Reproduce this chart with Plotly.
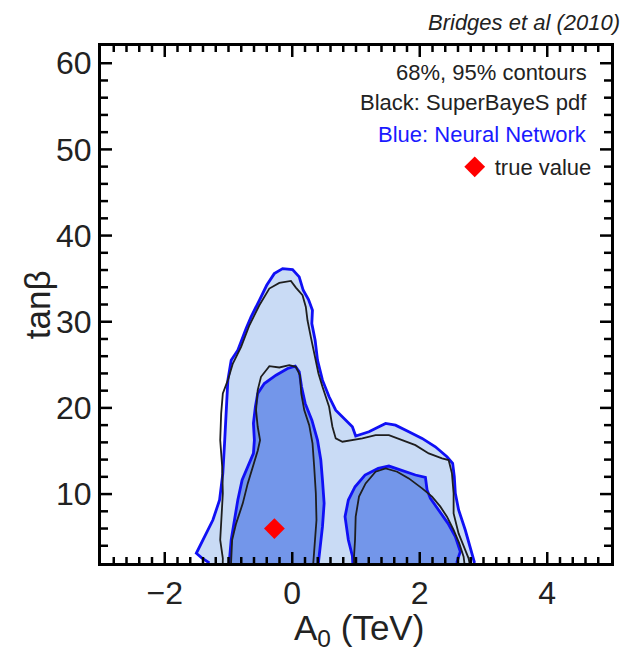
import plotly.graph_objects as go

# Marginalised posterior contours in the (A0, tan beta) plane.
# Each contour is an ordered list of boundary vertices; open ends sit on the
# tan beta = 2 prior edge.

# Neural-network posterior, 95% region
nn95_a0 = [-1.30, -1.42, -1.505, -1.375, -1.245, -1.140, -1.089, -1.062, -1.036, -1.010,
           -0.958, -0.854, -0.724, -0.646, -0.516, -0.401, -0.282, -0.151, 0.005, 0.109,
           0.172, 0.255, 0.317, 0.307, 0.359, 0.396, 0.474, 0.578, 0.682, 0.839,
           0.943, 0.995, 1.203, 1.464, 1.620, 1.828, 2.037, 2.245, 2.427, 2.516,
           2.542, 2.558, 2.610, 2.714, 2.792, 2.844, 2.86]
nn95_tb = [2.0, 2.6, 3.13, 5.06, 6.99, 9.31, 12.40, 15.88, 19.74, 23.22,
           25.54, 26.70, 29.21, 30.56, 32.49, 34.23, 35.58, 36.17, 36.05, 35.20,
           33.65, 32.57, 31.33, 29.79, 27.86, 25.54, 23.22, 21.29, 19.74, 18.58,
           17.81, 16.73, 17.23, 18.20, 18.00, 17.23, 16.46, 15.49, 14.33, 13.56,
           12.01, 10.08, 8.15, 5.83, 3.90, 2.54, 2.0]

# Neural-network posterior, 68% region (two islands)
nn68_left_a0 = [-0.99, -0.984, -0.958, -0.906, -0.854, -0.786, -0.698, -0.609, -0.594, -0.609,
                -0.578, -0.542, -0.438, -0.255, -0.073, 0.047, 0.110, 0.146, 0.203, 0.308,
                0.396, 0.448, 0.474, 0.500, 0.474, 0.433, 0.412, 0.41]
nn68_left_tb = [2.0, 2.66, 4.67, 6.99, 9.31, 11.63, 13.17, 14.72, 16.26, 18.20,
                20.13, 21.67, 22.83, 23.80, 24.57, 24.84, 24.19, 22.45, 20.52, 18.58,
                16.26, 13.95, 11.63, 8.92, 6.22, 3.90, 2.54, 2.0]
nn68_right_a0 = [0.95, 0.943, 0.880, 0.828, 0.880, 0.985, 1.141, 1.349, 1.516, 1.724,
                 1.932, 2.089, 2.115, 2.167, 2.297, 2.443, 2.558, 2.636, 2.610, 2.58]
nn68_right_tb = [2.0, 2.82, 4.67, 7.38, 9.31, 10.85, 12.21, 12.98, 13.25, 12.71,
                 12.21, 11.94, 10.47, 9.50, 8.15, 6.60, 5.06, 3.32, 2.74, 2.0]

# SuperBayeS posterior, 95% contour
sb95_a0 = [-1.09, -1.089, -1.130, -1.115, -1.089, -1.099, -1.130, -1.115, -1.089, -1.010,
           -0.932, -0.802, -0.672, -0.516, -0.360, -0.203, -0.021, 0.057, 0.161, 0.213,
           0.239, 0.291, 0.344, 0.411, 0.474, 0.578, 0.630, 0.682, 0.787, 1.099,
           1.307, 1.516, 1.724, 1.932, 2.141, 2.349, 2.453, 2.505, 2.531, 2.531,
           2.609, 2.714, 2.766, 2.78]
sb95_tb = [2.0, 2.54, 4.67, 6.99, 10.08, 13.17, 16.26, 19.36, 21.67, 23.22,
           25.15, 27.08, 29.59, 31.91, 33.85, 34.50, 34.73, 33.96, 33.07, 31.72,
           30.17, 28.24, 26.31, 23.99, 22.45, 20.13, 17.81, 16.46, 16.07, 16.46,
           16.84, 16.84, 16.26, 15.68, 14.72, 14.14, 13.95, 12.40, 10.08, 7.76,
           5.44, 3.51, 2.54, 2.0]

# SuperBayeS posterior, 68% contours
sb68_left_a0 = [-0.96, -0.958, -0.943, -0.880, -0.776, -0.698, -0.620, -0.542, -0.505, -0.542,
                -0.568, -0.542, -0.490, -0.359, -0.203, -0.047, 0.058, 0.120, 0.141, 0.188,
                0.266, 0.318, 0.344, 0.370, 0.380, 0.354, 0.328, 0.33]
sb68_left_tb = [2.0, 2.93, 4.67, 6.60, 8.92, 11.24, 13.17, 15.03, 16.26, 17.81,
                19.74, 22.06, 23.61, 24.84, 24.69, 24.96, 24.77, 23.80, 21.67, 19.74,
                18.00, 15.88, 13.17, 10.08, 6.99, 4.28, 2.66, 2.0]
sb68_right_a0 = [0.97, 0.969, 0.985, 0.995, 1.047, 1.151, 1.307, 1.464, 1.646, 1.828,
                 2.037, 2.193, 2.323, 2.427, 2.531, 2.620, 2.688, 2.70]
sb68_right_tb = [2.0, 2.74, 4.67, 7.38, 9.70, 11.24, 12.59, 12.98, 12.59, 11.82,
                 10.66, 9.70, 8.54, 7.38, 5.83, 4.28, 2.74, 2.0]

# Input (true) model point
true_a0 = [-0.28]
true_tb = [6.0]

legend_lines = ["68%, 95% contours", "Black: SuperBayeS pdf", "Blue: Neural Network"]
legend_colors = ["#222222", "#222222", "#1a1aff"]

X_RANGE = [-3, 5]
Y_RANGE = [2, 62]
X_MAJOR, X_MINOR_PER = 2, 10   # major every 2 TeV, minor every 0.2 TeV
Y_MAJOR, Y_MINOR_PER = 10, 5   # major every 10, minor every 2

LIGHT = "#c9dbf5"
DARK = "#7396ea"
BLUE = "#1010f5"
BLACK = "#1e1e1e"
TEXT = "#222222"
FONT = "Liberation Sans, Arial, sans-serif"

fig = go.Figure()


def filled(xs, ys, color):
    fig.add_trace(go.Scatter(x=xs, y=ys, mode="lines", fill="toself", fillcolor=color,
                             line=dict(color=BLUE, width=2.8), hoverinfo="skip",
                             showlegend=False))


def outline(xs, ys):
    fig.add_trace(go.Scatter(x=xs, y=ys, mode="lines",
                             line=dict(color=BLACK, width=1.8), hoverinfo="skip",
                             showlegend=False))


filled(nn95_a0, nn95_tb, LIGHT)
filled(nn68_left_a0, nn68_left_tb, DARK)
filled(nn68_right_a0, nn68_right_tb, DARK)
outline(sb95_a0, sb95_tb)
outline(sb68_left_a0, sb68_left_tb)
outline(sb68_right_a0, sb68_right_tb)

fig.add_trace(go.Scatter(x=true_a0, y=true_tb, mode="markers", name="true value",
                         marker=dict(symbol="diamond", size=16, color="#ff0000",
                                     line=dict(width=0)),
                         showlegend=True))


# ---- frame ticks on all four sides (pointing inward)
def tick_values(lo, hi, step):
    n_lo = int(round(lo / step))
    n_hi = int(round(hi / step))
    return [round(k * step, 6) for k in range(n_lo, n_hi + 1)
            if lo < k * step < hi]


x_minor = tick_values(*X_RANGE, X_MAJOR / X_MINOR_PER)
y_minor = tick_values(*Y_RANGE, Y_MAJOR / Y_MINOR_PER)
x_major = tick_values(*X_RANGE, X_MAJOR)
y_major = tick_values(*Y_RANGE, Y_MAJOR)

tick_line = dict(color="black", width=2.5)
shapes = []
for v in x_minor:
    length = 11 if v in x_major else 6
    for edge, sign in ((0, 1), (1, -1)):
        shapes.append(dict(type="line", xref="x", yref="paper", x0=v, x1=v,
                           ysizemode="pixel", yanchor=edge, y0=0, y1=sign * length,
                           line=tick_line, layer="above"))
for v in y_minor:
    length = 11 if v in y_major else 7
    for edge, sign in ((0, 1), (1, -1)):
        shapes.append(dict(type="line", xref="paper", yref="y", y0=v, y1=v,
                           xsizemode="pixel", xanchor=edge, x0=0, x1=sign * length,
                           line=tick_line, layer="above"))

annotations = [
    dict(text="Bridges et al (2010)", xref="paper", yref="paper",
         x=1.021, y=1.046, xanchor="right", yanchor="middle", showarrow=False,
         font=dict(family=FONT, size=22, color=TEXT, style="italic")),
    dict(text="tanβ", xref="paper", yref="paper", x=-0.124, y=0.5,
         xanchor="center", yanchor="middle", textangle=-90, showarrow=False,
         font=dict(family=FONT, size=35, color=TEXT)),
    dict(text="A<sub>0</sub> (TeV)", xref="paper", yref="paper", x=0.505, y=-0.083,
         xanchor="center", yanchor="top", showarrow=False,
         font=dict(family=FONT, size=35, color=TEXT)),
]
line_y = [0.948, 0.890, 0.828]
for txt, col, yy in zip(legend_lines, legend_colors, line_y):
    annotations.append(dict(text=txt, xref="paper", yref="paper", x=0.957, y=yy,
                            xanchor="right", yanchor="middle", showarrow=False,
                            font=dict(family=FONT, size=22, color=col)))

frame = dict(
    showline=True, linecolor="black", linewidth=3, mirror=True,
    ticks="", showgrid=False, zeroline=False,
    tickfont=dict(family=FONT, size=32, color=TEXT),
)

fig.update_layout(
    width=626, height=658,
    margin=dict(l=101, r=13, t=46, b=95),
    paper_bgcolor="white", plot_bgcolor="white",
    annotations=annotations,
    shapes=shapes,
    showlegend=True,
    legend=dict(x=0.972, y=0.766, xanchor="right", yanchor="middle",
                bgcolor="rgba(0,0,0,0)",
                font=dict(family=FONT, size=22, color=TEXT)),
    xaxis=dict(range=X_RANGE, tick0=0, dtick=X_MAJOR, **frame),
    yaxis=dict(range=Y_RANGE, tick0=0, dtick=Y_MAJOR, **frame),
)

fig.write_html("out.html")
